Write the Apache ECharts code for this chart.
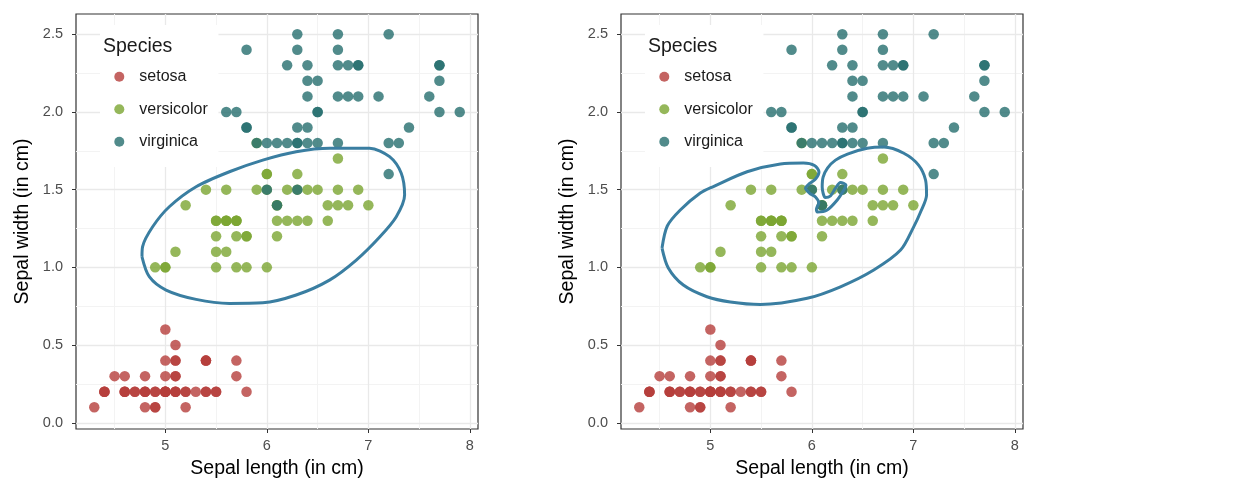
<!DOCTYPE html>
<html><head><meta charset="utf-8">
<script src="https://cdn.jsdelivr.net/npm/echarts@6/dist/echarts.min.js"></script>
<style>html,body{margin:0;padding:0;background:#fff}#c{width:1237px;height:479px}</style>
</head><body><div id="c"></div><script>
// ---- data (iris: sepal length vs. petal width, as plotted) ----
const speciesNames = ['setosa', 'versicolor', 'virginica'];
const setosaX = [5.1,4.9,4.7,4.6,5.0,5.4,4.6,5.0,4.4,4.9,5.4,4.8,4.8,4.3,5.8,5.7,5.4,5.1,5.7,5.1,5.4,5.1,4.6,5.1,4.8,5.0,5.0,5.2,5.2,4.7,4.8,5.4,5.2,5.5,4.9,5.0,5.5,4.9,4.4,5.1,5.0,4.5,4.4,5.0,5.1,4.8,5.1,4.6,5.3,5.0];
const setosaY = [0.2,0.2,0.2,0.2,0.2,0.4,0.3,0.2,0.2,0.1,0.2,0.2,0.1,0.1,0.2,0.4,0.4,0.3,0.3,0.3,0.2,0.4,0.2,0.5,0.2,0.2,0.4,0.2,0.2,0.2,0.2,0.4,0.1,0.2,0.2,0.2,0.2,0.1,0.2,0.2,0.3,0.3,0.2,0.6,0.4,0.3,0.2,0.2,0.2,0.2];
const versicolorX = [7.0,6.4,6.9,5.5,6.5,5.7,6.3,4.9,6.6,5.2,5.0,5.9,6.0,6.1,5.6,6.7,5.6,5.8,6.2,5.6,5.9,6.1,6.3,6.1,6.4,6.6,6.8,6.7,6.0,5.7,5.5,5.5,5.8,6.0,5.4,6.0,6.7,6.3,5.6,5.5,5.5,6.1,5.8,5.0,5.6,5.7,5.7,6.2,5.1,5.7];
const versicolorY = [1.4,1.5,1.5,1.3,1.5,1.3,1.6,1.0,1.3,1.4,1.0,1.5,1.0,1.4,1.3,1.4,1.5,1.0,1.5,1.1,1.8,1.3,1.5,1.2,1.3,1.4,1.4,1.7,1.5,1.0,1.1,1.0,1.2,1.6,1.5,1.6,1.5,1.3,1.3,1.3,1.2,1.4,1.2,1.0,1.3,1.2,1.3,1.3,1.1,1.3];
const virginicaX = [6.3,5.8,7.1,6.3,6.5,7.6,4.9,7.3,6.7,7.2,6.5,6.4,6.8,5.7,5.8,6.4,6.5,7.7,7.7,6.0,6.9,5.6,7.7,6.3,6.7,7.2,6.2,6.1,6.4,7.2,7.4,7.9,6.4,6.3,6.1,7.7,6.3,6.4,6.0,6.9,6.7,6.9,5.8,6.8,6.7,6.7,6.3,6.5,6.2,5.9];
const virginicaY = [2.5,1.9,2.1,1.8,2.2,2.1,1.7,1.8,1.8,2.5,2.0,1.9,2.1,2.0,2.4,2.3,1.8,2.2,2.3,1.5,2.3,2.0,2.0,1.8,2.1,1.8,1.8,1.8,2.1,1.6,1.9,2.0,2.2,1.5,1.4,2.3,2.4,1.8,1.8,2.1,2.4,2.3,1.9,2.3,2.5,2.3,1.9,2.0,2.3,1.8];

// outline drawn around versicolor (left panel), in data units
const leftOutlineX = [4.770,4.842,5.007,5.303,5.631,5.960,6.289,6.617,6.881,7.114,7.275,7.357,7.324,7.209,7.012,6.617,6.289,5.960,5.631,5.303,5.039,4.875,4.776,4.770];
const leftOutlineY = [1.068,0.940,0.854,0.794,0.768,0.772,0.822,0.918,1.047,1.197,1.326,1.465,1.605,1.712,1.766,1.766,1.744,1.690,1.615,1.519,1.390,1.261,1.133,1.068];
// twisted outline (right panel)
const rightOutlineX = [4.524,4.576,4.704,4.901,5.030,5.362,5.690,5.917,6.026,6.070,6.036,5.966,5.937,5.976,6.036,6.068,6.045,6.055,6.151,6.250,6.315,6.336,6.282,6.233,6.183,6.134,6.102,6.111,6.154,6.233,6.351,6.545,6.709,6.906,7.051,7.120,7.130,7.071,7.002,6.874,6.610,6.282,5.954,5.493,5.197,4.967,4.734,4.586,4.524];
const rightOutlineY = [1.124,1.266,1.369,1.478,1.520,1.615,1.665,1.671,1.655,1.613,1.568,1.533,1.510,1.478,1.452,1.414,1.375,1.356,1.369,1.433,1.497,1.530,1.546,1.510,1.459,1.449,1.517,1.581,1.639,1.690,1.729,1.766,1.774,1.734,1.658,1.562,1.465,1.356,1.259,1.111,0.983,0.875,0.801,0.761,0.777,0.811,0.886,0.996,1.124];

const xTicks = [5, 6, 7, 8];
const xMinor = [4.5, 5.5, 6.5, 7.5];
const yTicks = [0, 0.5, 1.0, 1.5, 2.0, 2.5];
const yMinor = [0.25, 0.75, 1.25, 1.75, 2.25];
const xTitle = 'Sepal length (in cm)';
const yTitle = 'Sepal width (in cm)';
const legendTitle = 'Species';

// ---- styling / layout ----
const FONT = '"Liberation Sans", Arial, Helvetica, sans-serif';
const colors = {setosa: '#b53d3b', versicolor: '#7aa531', virginica: '#266e6e'};
const outlineColor = '#3a7ea1';
const panelLefts = [76, 621];
const zip = (a, b) => a.map((v, i) => [v, b[i]]);
const seriesData = {
  setosa: zip(setosaX, setosaY),
  versicolor: zip(versicolorX, versicolorY),
  virginica: zip(virginicaX, virginicaY)
};
const outlines = [zip(leftOutlineX, leftOutlineY), zip(rightOutlineX, rightOutlineY)];

const grid = [], xAxis = [], yAxis = [], series = [], legend = [], title = [];
panelLefts.forEach((L, i) => {
  grid.push({left: L, top: 14, width: 402, height: 415, show: true, containLabel: false,
    outerBoundsMode: 'none',
    borderColor: '#333', borderWidth: 1.2, backgroundColor: 'transparent'});
  xAxis.push({type: 'value', gridIndex: i, min: 4.12, max: 8.08,
    splitLine: {show: false}, axisLine: {show: false, onZero: false},
    axisTick: {show: true, customValues: xTicks, length: 4, lineStyle: {color: '#333', width: 1}},
    axisLabel: {customValues: xTicks, color: '#4d4d4d', fontSize: 14.5, fontFamily: FONT, margin: 9},
    name: xTitle, nameLocation: 'middle', nameGap: 30,
    nameTextStyle: {fontSize: 19.5, color: '#000', fontFamily: FONT}});
  yAxis.push({type: 'value', gridIndex: i, min: -0.04, max: 2.63,
    splitLine: {show: false}, axisLine: {show: false, onZero: false},
    axisTick: {show: true, customValues: yTicks, length: 4, lineStyle: {color: '#333', width: 1}},
    axisLabel: {customValues: yTicks, color: '#4d4d4d', fontSize: 14.5, fontFamily: FONT, margin: 13,
      formatter: v => Number(v).toFixed(1)},
    name: yTitle, nameLocation: 'middle', nameGap: 43,
    nameTextStyle: {fontSize: 19.5, color: '#000', fontFamily: FONT}});
  // grid lines via markLine on an empty series
  const ml = [];
  xMinor.forEach(v => ml.push({xAxis: v, lineStyle: {color: '#f3f3f3', width: 1, type: 'solid'}}));
  yMinor.forEach(v => ml.push({yAxis: v, lineStyle: {color: '#f3f3f3', width: 1, type: 'solid'}}));
  xTicks.forEach(v => ml.push({xAxis: v, lineStyle: {color: '#e9e9e9', width: 1.3, type: 'solid'}}));
  yTicks.forEach(v => ml.push({yAxis: v, lineStyle: {color: '#e9e9e9', width: 1.3, type: 'solid'}}));
  series.push({type: 'scatter', name: 'grid' + i, xAxisIndex: i, yAxisIndex: i, data: [], silent: true,
    markLine: {silent: true, symbol: ['none', 'none'], label: {show: false}, animation: false, z: 1,
      emphasis: {disabled: true}, data: ml}});
  speciesNames.forEach(s => {
    series.push({type: 'scatter', name: s, xAxisIndex: i, yAxisIndex: i, data: seriesData[s],
      symbolSize: 10.5, z: 2, itemStyle: {color: colors[s], opacity: 0.8}, emphasis: {disabled: true}});
  });
  series.push({type: 'line', name: 'outline' + i, xAxisIndex: i, yAxisIndex: i, data: outlines[i],
    showSymbol: false, symbol: 'none', smooth: 0.3, z: 5, silent: true,
    lineStyle: {color: outlineColor, width: 3}, emphasis: {disabled: true}});
  const off = L - 76;
  legend.push({orient: 'vertical', left: 100 + off, top: 25, backgroundColor: '#fff',
    padding: [43.7, 10.7, 17.3, 14.3], itemWidth: 30, itemHeight: 10, itemGap: 16.5, icon: 'circle',
    selectedMode: false, data: speciesNames,
    textStyle: {fontSize: 16, color: '#1a1a1a', fontFamily: FONT, lineHeight: 16}});
  title.push({text: legendTitle, left: 103 + off, top: 37, padding: 0,
    textStyle: {fontSize: 19.5, fontWeight: 'normal', color: '#1a1a1a', fontFamily: FONT}});
});

const chart = echarts.init(document.getElementById('c'), null, {renderer: 'canvas'});
chart.setOption({animation: false, backgroundColor: '#fff', textStyle: {fontFamily: FONT},
  grid, xAxis, yAxis, series, legend, title});
</script></body></html>
